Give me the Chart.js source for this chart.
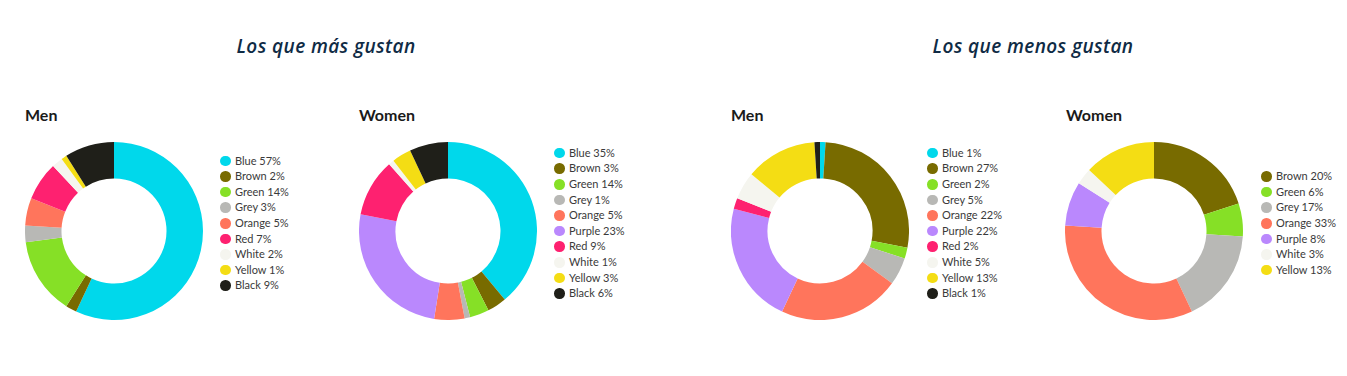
<!DOCTYPE html>
<html>
<head>
<meta charset="utf-8">
<script src="https://cdn.jsdelivr.net/npm/chart.js@4.4.1/dist/chart.umd.min.js"></script>
<style>
    body { margin: 0; background: #fff; width: 1347px; height: 376px; overflow: hidden; position: relative; font-family: Lato, "Open Sans", sans-serif; }
    .head { position: absolute; top: 33px; font-family: "Open Sans", Lato, sans-serif; font-style: italic; font-weight: 600; font-size: 19px; letter-spacing: 0.4px; color: #0f2b45; text-align: center; width: 400px; }
    .sub { position: absolute; top: 105px; font-weight: 700; font-size: 16px; color: #1a1a1a; }
    .donut { position: absolute; }
    .legend { position: absolute; font-size: 11px; color: #3a3a3a; }
    .legend div { position: absolute; white-space: nowrap; height: 14px; line-height: 14px; }
    .legend span { position: absolute; left: -15px; top: 2px; width: 10.5px; height: 10.5px; border-radius: 50%; }
</style>
</head>
<body>
<div class="head" style="left:126px">Los que más gustan</div>
<div class="head" style="left:833px">Los que menos gustan</div>

<div class="sub" style="left:25px">Men</div>
<div class="sub" style="left:359px">Women</div>
<div class="sub" style="left:731px">Men</div>
<div class="sub" style="left:1066px">Women</div>

<canvas id="c1" class="donut" width="178" height="178" style="left:25px;top:142px"></canvas>
<canvas id="c2" class="donut" width="178" height="178" style="left:359px;top:142px"></canvas>
<canvas id="c3" class="donut" width="178" height="178" style="left:731px;top:142px"></canvas>
<canvas id="c4" class="donut" width="178" height="178" style="left:1065px;top:142px"></canvas>

<div id="l1" class="legend" style="left:235px"></div>
<div id="l2" class="legend" style="left:569px"></div>
<div id="l3" class="legend" style="left:942px"></div>
<div id="l4" class="legend" style="left:1276px"></div>

<script>
// colour names used in all four charts
const menLikedLabels = ['Blue', 'Brown', 'Green', 'Grey', 'Orange', 'Red', 'White', 'Yellow', 'Black'];
const menLikedValues = [57, 2, 14, 3, 5, 7, 2, 1, 9];

const womenLikedLabels = ['Blue', 'Brown', 'Green', 'Grey', 'Orange', 'Purple', 'Red', 'White', 'Yellow', 'Black'];
const womenLikedLegend = [35, 3, 14, 1, 5, 23, 9, 1, 3, 6];
// arc sizes as drawn in the picture (legend text differs)
const womenLikedValues = [39, 3.5, 3.5, 1, 5.5, 25.5, 10.5, 1, 3.5, 7];

const menDislikedLabels = ['Blue', 'Brown', 'Green', 'Grey', 'Orange', 'Purple', 'Red', 'White', 'Yellow', 'Black'];
const menDislikedValues = [1, 27, 2, 5, 22, 22, 2, 5, 13, 1];

const womenDislikedLabels = ['Brown', 'Green', 'Grey', 'Orange', 'Purple', 'White', 'Yellow'];
const womenDislikedValues = [20, 6, 17, 33, 8, 3, 13];

const palette = {
    Blue: '#00d8eb',
    Brown: '#786b00',
    Green: '#86e026',
    Grey: '#b8b8b5',
    Orange: '#ff755c',
    Red: '#fe2170',
    Purple: '#ba88fd',
    White: '#f5f5ef',
    Yellow: '#f4dd14',
    Black: '#1f1f19'
};

function makeDonut(id, labels, values) {
    const ctx = document.getElementById(id).getContext('2d');
    return new Chart(ctx, {
        type: 'doughnut',
        data: {
            labels: labels,
            datasets: [{
                data: values,
                backgroundColor: labels.map(l => palette[l]),
                borderWidth: 0
            }]
        },
        options: {
            responsive: false,
            animation: false,
            cutout: '59%',
            plugins: {
                legend: { display: false },
                tooltip: { enabled: false }
            }
        }
    });
}

function makeLegend(id, labels, pcts) {
    const box = document.getElementById(id);
    const step = 15.6;
    const top = 223 - (labels.length - 1) * step / 2;
    labels.forEach((l, i) => {
        const row = document.createElement('div');
        row.style.top = (top + i * step - 7) + 'px';
        row.innerHTML = `<span style="background:${palette[l]}"></span>${l} ${pcts[i]}%`;
        box.appendChild(row);
    });
}

makeDonut('c1', menLikedLabels, menLikedValues);
makeDonut('c2', womenLikedLabels, womenLikedValues);
makeDonut('c3', menDislikedLabels, menDislikedValues);
makeDonut('c4', womenDislikedLabels, womenDislikedValues);

makeLegend('l1', menLikedLabels, menLikedValues);
makeLegend('l2', womenLikedLabels, womenLikedLegend);
makeLegend('l3', menDislikedLabels, menDislikedValues);
makeLegend('l4', womenDislikedLabels, womenDislikedValues);
</script>
</body>
</html>
